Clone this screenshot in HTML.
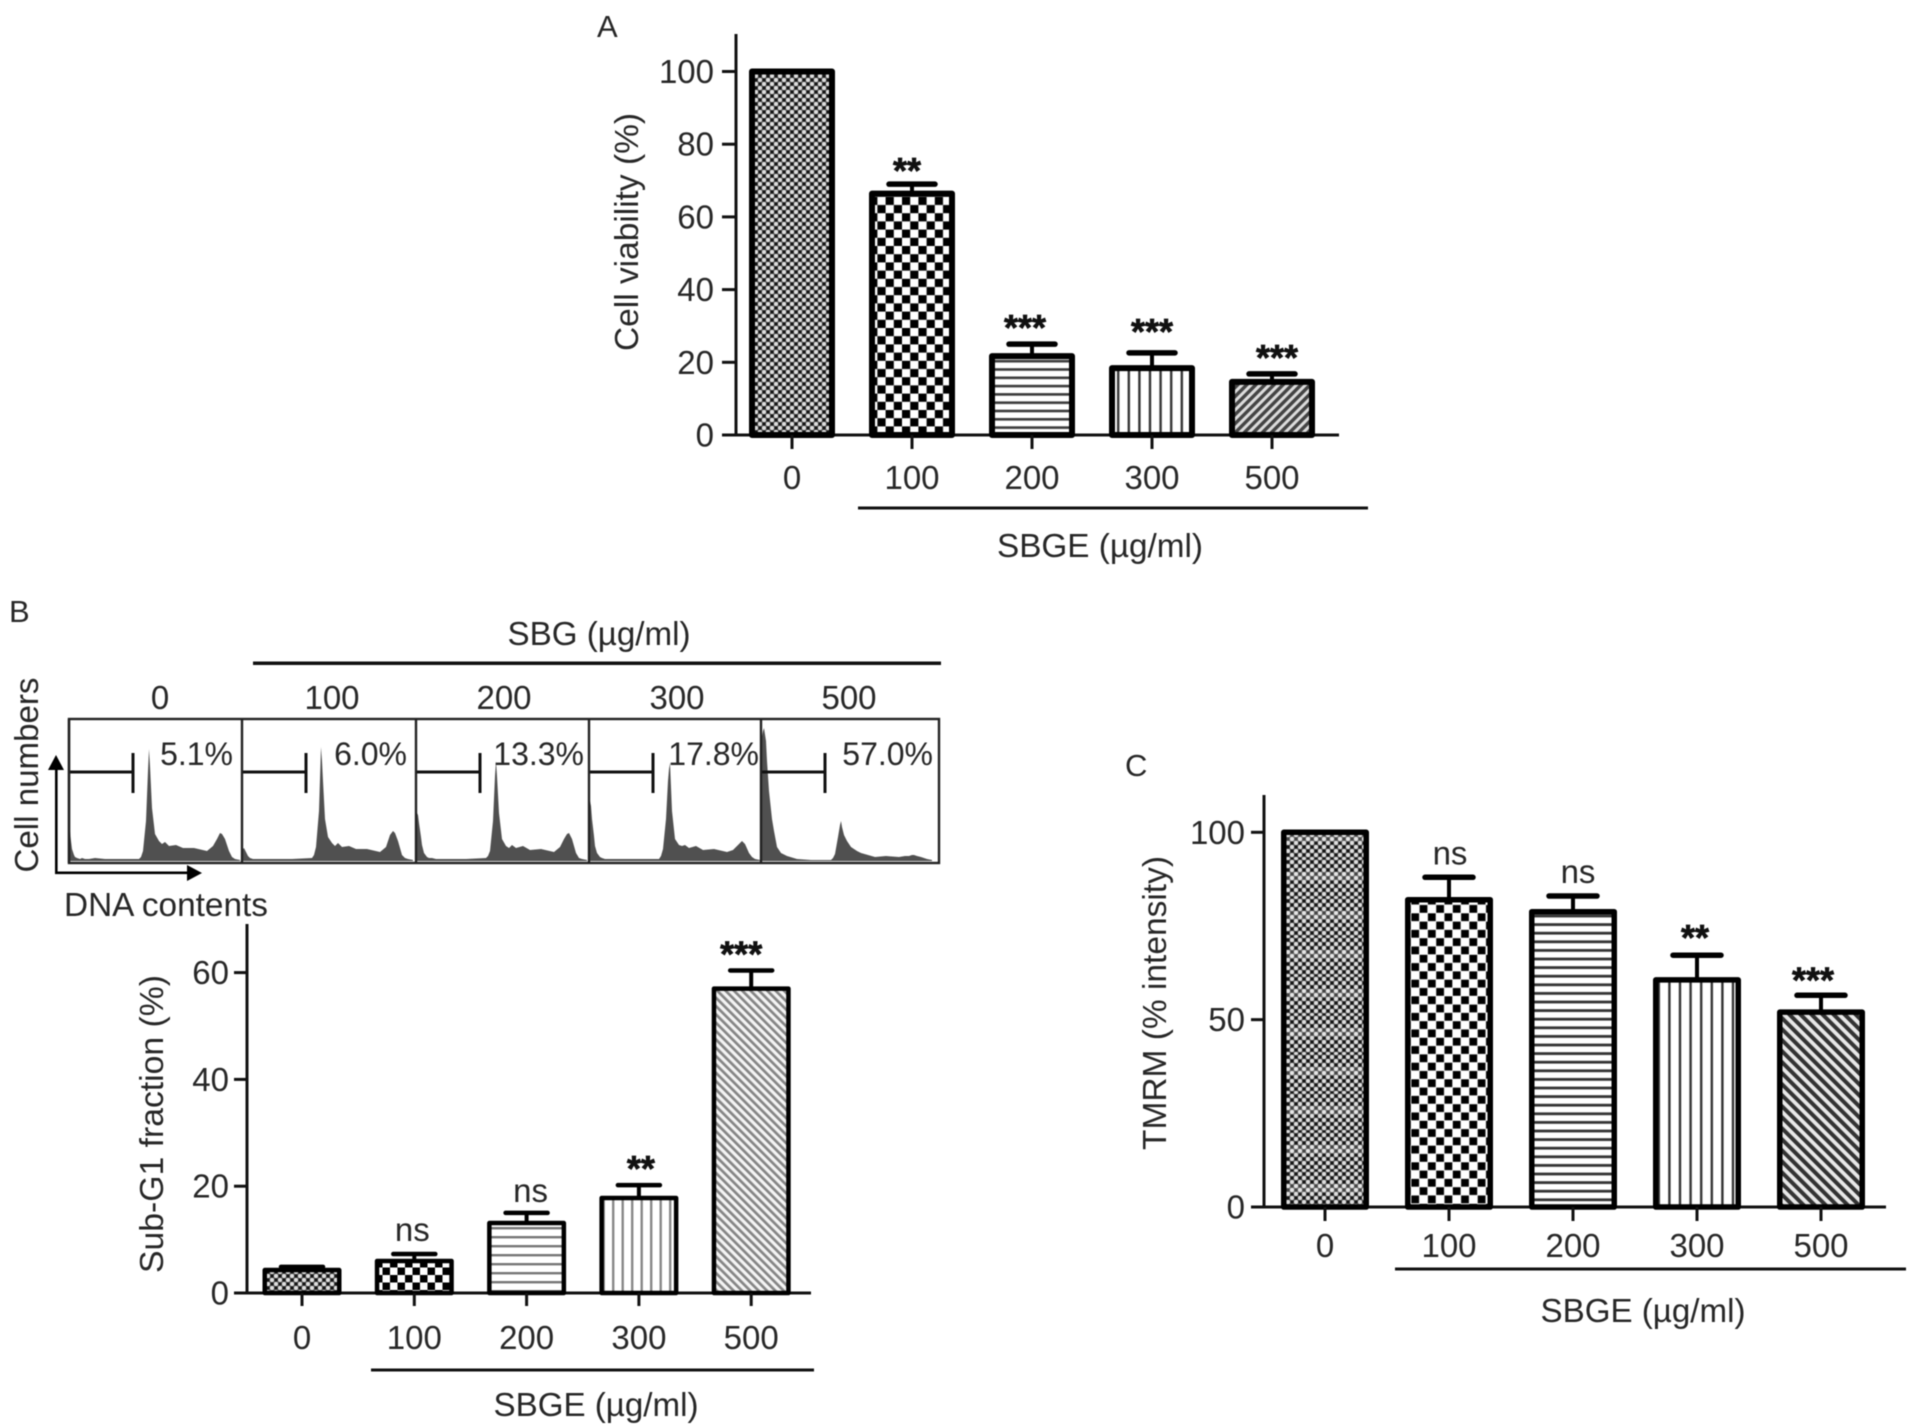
<!DOCTYPE html>
<html lang="en">
<head>
<meta charset="utf-8">
<title>SBGE viability, sub-G1 and TMRM charts</title>
<style>
html,body{margin:0;padding:0;background:#fff;}
body{width:1909px;height:1427px;overflow:hidden;}
svg{display:block;filter:blur(0.6px);}
text{font-family:"Liberation Sans",Arial,sans-serif;fill:#272727;}
</style>
</head>
<body>
<svg id="figure" xmlns="http://www.w3.org/2000/svg" width="1909" height="1427" viewBox="0 0 1909 1427">
<defs>
  <pattern id="dots" patternUnits="userSpaceOnUse" width="8" height="8">
    <rect width="8" height="8" fill="#5c5c5c"/>
    <circle cx="0" cy="0" r="2.1" fill="#dedede"/><circle cx="8" cy="0" r="2.1" fill="#dedede"/>
    <circle cx="0" cy="8" r="2.1" fill="#dedede"/><circle cx="8" cy="8" r="2.1" fill="#dedede"/>
    <circle cx="4" cy="4" r="2.1" fill="#dedede"/>
    <circle cx="4" cy="0" r="1.7" fill="#151515"/><circle cx="4" cy="8" r="1.7" fill="#151515"/>
    <circle cx="0" cy="4" r="1.7" fill="#151515"/><circle cx="8" cy="4" r="1.7" fill="#151515"/>
  </pattern>
  <pattern id="bands" patternUnits="userSpaceOnUse" width="8" height="39">
    <rect width="8" height="39" fill="url(#dots)"/>
    <rect y="14" width="8" height="9" fill="#fff" opacity="0.2"/>
  </pattern>
  <pattern id="checkA" patternUnits="userSpaceOnUse" width="16.4" height="16.4">
    <rect width="16.4" height="16.4" fill="#fff"/>
    <rect width="8.2" height="8.2" fill="#000"/><rect x="8.2" y="8.2" width="8.2" height="8.2" fill="#000"/>
  </pattern>
  <pattern id="checkB" patternUnits="userSpaceOnUse" width="15" height="15">
    <rect width="15" height="15" fill="#fff"/>
    <rect width="7.5" height="7.5" fill="#000"/><rect x="7.5" y="7.5" width="7.5" height="7.5" fill="#000"/>
  </pattern>
  <pattern id="checkC" patternUnits="userSpaceOnUse" width="16.6" height="16.6">
    <rect width="16.6" height="16.6" fill="#fff"/>
    <rect x="0.3" y="0.3" width="7.8" height="7.8" fill="#000"/><rect x="8.6" y="8.6" width="7.8" height="7.8" fill="#000"/>
  </pattern>
  <pattern id="hlinesA" patternUnits="userSpaceOnUse" width="10" height="8.3">
    <rect width="10" height="8.3" fill="#fff"/><rect y="3" width="10" height="2.6" fill="#3a3a3a"/>
  </pattern>
  <pattern id="hlinesB" patternUnits="userSpaceOnUse" width="10" height="9">
    <rect width="10" height="9" fill="#fff"/><rect y="3" width="10" height="2.4" fill="#777"/>
  </pattern>
  <pattern id="hlinesC" patternUnits="userSpaceOnUse" width="10" height="8.6">
    <rect width="10" height="8.6" fill="#fff"/><rect y="3" width="10" height="2.8" fill="#333"/>
  </pattern>
  <pattern id="vlinesA" patternUnits="userSpaceOnUse" width="10.6" height="10">
    <rect width="10.6" height="10" fill="#fff"/><rect x="4" width="2.4" height="10" fill="#333"/>
  </pattern>
  <pattern id="vlinesB" patternUnits="userSpaceOnUse" width="9.5" height="10">
    <rect width="9.5" height="10" fill="#fff"/><rect x="4" width="2.4" height="10" fill="#888"/>
  </pattern>
  <pattern id="vlinesC" patternUnits="userSpaceOnUse" width="10.6" height="10">
    <rect width="10.6" height="10" fill="#fff"/><rect x="4" width="2.4" height="10" fill="#333"/>
  </pattern>
  <pattern id="diagA" patternUnits="userSpaceOnUse" width="6.4" height="8" patternTransform="rotate(45)">
    <rect width="6.4" height="8" fill="#dcdcdc"/><rect width="3.4" height="8" fill="#444"/>
  </pattern>
  <pattern id="diagB" patternUnits="userSpaceOnUse" width="5.9" height="8" patternTransform="rotate(-45)">
    <rect width="5.9" height="8" fill="#f4f4f4"/><rect width="2.7" height="8" fill="#858585"/>
  </pattern>
  <pattern id="diagC" patternUnits="userSpaceOnUse" width="7.8" height="8" patternTransform="rotate(-45)">
    <rect width="7.8" height="8" fill="#e8e8e8"/><rect width="4" height="8" fill="#333"/>
  </pattern>
</defs>

<text x="597" y="37" font-size="31">A</text>
<text x="9" y="622" font-size="31">B</text>
<text x="1125" y="776" font-size="31">C</text>

<text transform="translate(638,232) rotate(-90)" text-anchor="middle" font-size="33" textLength="238" lengthAdjust="spacingAndGlyphs">Cell viability (%)</text>
<text x="1100" y="557" text-anchor="middle" font-size="33" textLength="206" lengthAdjust="spacingAndGlyphs">SBGE (µg/ml)</text>
<rect x="858" y="506.5" width="510" height="3" fill="#111"/>

<text x="599" y="645" text-anchor="middle" font-size="33" textLength="183" lengthAdjust="spacingAndGlyphs">SBG (µg/ml)</text>
<rect x="253" y="661.5" width="688" height="3.5" fill="#111"/>
<text transform="translate(38,775) rotate(-90)" text-anchor="middle" font-size="33" textLength="195" lengthAdjust="spacingAndGlyphs">Cell numbers</text>
<text x="64" y="916" font-size="33" textLength="204" lengthAdjust="spacingAndGlyphs">DNA contents</text>

<g fill="#000" stroke="none">
  <rect x="55" y="768" width="2.6" height="106"/>
  <rect x="55" y="871.5" width="134" height="2.6"/>
  <polygon points="56,755 48,770 64,770"/>
  <polygon points="202,873 187,865 187,881"/>
</g>

<text transform="translate(163,1124) rotate(-90)" text-anchor="middle" font-size="33" textLength="298" lengthAdjust="spacingAndGlyphs">Sub-G1 fraction (%)</text>
<text x="596" y="1416" text-anchor="middle" font-size="33" textLength="205" lengthAdjust="spacingAndGlyphs">SBGE (µg/ml)</text>
<rect x="371" y="1368.5" width="443" height="3" fill="#111"/>

<text transform="translate(1166,1003) rotate(-90)" text-anchor="middle" font-size="33" textLength="294" lengthAdjust="spacingAndGlyphs">TMRM (% intensity)</text>
<text x="1643" y="1322" text-anchor="middle" font-size="33" textLength="205" lengthAdjust="spacingAndGlyphs">SBGE (µg/ml)</text>
<rect x="1395" y="1267.5" width="511" height="3" fill="#111"/>
</svg>

<script>
var doseLabels = ['0', '100', '200', '300', '500'];

var viabilityTicks = [0, 20, 40, 60, 80, 100];
var viabilityValues = [100, 66.4, 21.7, 18.4, 14.6];
var viabilityErrors = [0, 2.6, 3.3, 4.2, 2.2];
var viabilityMarks = ['', '**', '***', '***', '***'];

var subG1Ticks = [0, 20, 40, 60];
var subG1Values = [4.3, 6.0, 13.1, 17.8, 57.0];
var subG1Errors = [0.6, 1.3, 1.9, 2.4, 3.4];
var subG1Marks = ['', 'ns', 'ns', '**', '***'];

var tmrmTicks = [0, 50, 100];
var tmrmValues = [100, 82, 78.8, 60.6, 52];
var tmrmErrors = [0, 6, 4.2, 6.6, 4.5];
var tmrmMarks = ['', 'ns', 'ns', '**', '***'];

var histDoses = ['0', '100', '200', '300', '500'];
var histPercents = ['5.1%', '6.0%', '13.3%', '17.8%', '57.0%'];
var histChannels = [0,1,2,3,5,6,8,11,13,16,20,26,36,50,70,72,74,77,79,80,81,83,86,90,93,96,100,107,114,125,138,144,148,151,153,156,160,163,166,171];
var histCounts0 = [32,30,20,12,6,4,3,2,3,2,2,3,2,2,2,4,10,40,90,112,95,53,27,20,17,19,15,16,13,13,10,15,22,28,27,22,10,4,2,1];
var histCounts100 = [6,12,13,11,7,5,3,2,2,2,2,2,2,2,3,6,14,50,114,100,80,42,24,18,15,18,14,15,12,12,9,14,26,30,28,20,6,3,2,1];
var histCounts200 = [40,48,46,38,24,16,8,4,3,3,2,2,2,2,3,5,10,40,85,100,85,48,22,15,13,16,13,15,11,12,9,14,22,27,28,22,8,3,2,1];
var histCounts300 = [55,60,55,42,25,15,8,4,3,2,2,2,2,2,2,5,12,42,80,92,98,50,22,16,15,16,13,15,11,12,9,11,15,18,20,17,8,4,2,1];
var histCounts500 = [100,125,130,133,120,100,70,42,30,14,8,5,2,1,1,3,7,24,36,40,34,26,20,14,12,10,8,6,4,5,4,5,5,6,6,5,4,3,2,1];

var svg = document.getElementById('figure');
var NS = 'http://www.w3.org/2000/svg';

function make(parent, tag, attrs, name, content) {
  var el = document.createElementNS(NS, tag);
  for (var k in attrs) { el.setAttribute(k, attrs[k]); }
  
  
  if (content !== undefined) { el.textContent = content; }
  parent.appendChild(el);
  return el;
}

function drawBarChart(o) {
  var g = make(svg, 'g', {}, o.name);
  function y(v) { return o.y0 - v * o.unit; }
  function x(i) { return o.x0 + i * o.step; }

  make(g, 'line', {x1: o.axisX, x2: o.axisX, y1: o.axisTop, y2: o.y0 + 1.5, stroke: '#111', 'stroke-width': 3}, o.name + '-y-axis');
  make(g, 'line', {x1: o.axisX - o.tickLen, x2: o.axisEnd, y1: o.y0, y2: o.y0, stroke: '#111', 'stroke-width': 3}, o.name + '-x-axis');

  o.ticks.forEach(function (t) {
    make(g, 'line', {x1: o.axisX - o.tickLen, x2: o.axisX, y1: y(t), y2: y(t), stroke: '#111', 'stroke-width': 3}, o.name + '-y-tick-' + t);
    make(g, 'text', {x: o.labelRight, y: y(t) + 11.5, 'text-anchor': 'end', 'font-size': 33}, o.name + '-y-label-' + t, String(t));
  });

  o.values.forEach(function (v, i) {
    var cx = x(i), sw = o.barStroke, top = y(v), dose = doseLabels[i];
    if (o.errors[i] > 0) {
      var capY = y(v + o.errors[i]);
      make(g, 'line', {x1: cx, x2: cx, y1: capY, y2: top, stroke: '#000', 'stroke-width': 4}, o.name + '-error-stem-' + dose);
      make(g, 'line', {x1: cx - o.capHalf, x2: cx + o.capHalf, y1: capY, y2: capY, stroke: '#000', 'stroke-width': o.capStroke, 'stroke-linecap': 'round'}, o.name + '-error-cap-' + dose);
    }
    make(g, 'rect', {x: cx - o.barWidth / 2 + sw / 2, y: top, width: o.barWidth - sw, height: o.y0 - top, fill: 'url(#' + o.fills[i] + ')', stroke: '#000', 'stroke-width': sw, 'stroke-linejoin': 'round'}, o.name + '-bar-' + dose);
    make(g, 'line', {x1: cx, x2: cx, y1: o.y0, y2: o.y0 + o.xTickLen, stroke: '#111', 'stroke-width': 3}, o.name + '-x-tick-' + dose);
    make(g, 'text', {x: cx, y: o.xLabelY, 'text-anchor': 'middle', 'font-size': 33}, o.name + '-x-label-' + dose, dose);

    var mark = o.marks[i];
    if (mark) {
      var base = y(v + o.errors[i]) - o.markLift[i];
      var mx = cx + o.markNudge[i];
      if (mark === 'ns') {
        make(g, 'text', {x: mx, y: base - 13, 'text-anchor': 'middle', 'font-size': 33}, o.name + '-ns-' + dose, mark);
      } else {
        make(g, 'text', {x: mx, y: base - o.starGap + 16, 'text-anchor': 'middle', 'font-size': 36, 'font-weight': 'bold', style: 'fill:#111;stroke:#111;stroke-width:0.7'}, o.name + '-significance-' + dose, mark);
      }
    }
  });
}

drawBarChart({
  name: 'viability-chart', values: viabilityValues, errors: viabilityErrors, marks: viabilityMarks, ticks: viabilityTicks,
  fills: ['dots', 'checkA', 'hlinesA', 'vlinesA', 'diagA'],
  markNudge: [0, -5, -7, 0, 5],
  markLift: [0, -3, 0, 5, 0],
  axisX: 736, axisTop: 34, axisEnd: 1339, y0: 435, unit: 3.635, x0: 792, step: 120, barWidth: 86,
  barStroke: 6, capHalf: 23, capStroke: 5.5, tickLen: 14, xTickLen: 14, labelRight: 714, xLabelY: 489, starGap: 20
});
drawBarChart({
  name: 'sub-g1-chart', values: subG1Values, errors: subG1Errors, marks: subG1Marks, ticks: subG1Ticks,
  fills: ['dots', 'checkB', 'hlinesB', 'vlinesB', 'diagB'],
  markNudge: [0, -2, 4, 2, -10],
  markLift: [0, 0, -2, 0, 0],
  axisX: 247, axisTop: 924, axisEnd: 811, y0: 1293, unit: 5.34, x0: 302, step: 112.3, barWidth: 79,
  barStroke: 4.5, capHalf: 21, capStroke: 4.5, tickLen: 13, xTickLen: 13, labelRight: 229, xLabelY: 1349, starGap: 20
});
drawBarChart({
  name: 'tmrm-chart', values: tmrmValues, errors: tmrmErrors, marks: tmrmMarks, ticks: tmrmTicks,
  fills: ['bands', 'checkC', 'hlinesC', 'vlinesC', 'diagC'],
  markNudge: [0, 1, 5, -2, -8],
  markLift: [0, 0, 0, 2, 0],
  axisX: 1264, axisTop: 795, axisEnd: 1886, y0: 1207, unit: 3.747, x0: 1325, step: 124, barWidth: 88,
  barStroke: 5.5, capHalf: 24, capStroke: 5.5, tickLen: 13, xTickLen: 14, labelRight: 1245, xLabelY: 1257, starGap: 19
});

function drawHistograms() {
  var g = make(svg, 'g', {}, 'cell-cycle-histograms');
  var lefts = [69, 242, 416, 589, 761];
  var right = 939, top = 719, bottom = 863, base = 861;
  var textRight = [164, 165, 168, 170, 172];
  var labelCentre = [91, 90, 88, 88, 88];
  var series = [histCounts0, histCounts100, histCounts200, histCounts300, histCounts500];

  series.forEach(function (counts, p) {
    var left = lefts[p];
    var pts = [(left) + ',' + base];
    counts.forEach(function (c, i) {
      pts.push((left + histChannels[i]).toFixed(1) + ',' + (base - c).toFixed(1));
    });
    pts.push((left + histChannels[histChannels.length - 1]) + ',' + base);
    make(g, 'polygon', {points: pts.join(' '), fill: '#505050'}, 'histogram-trace-' + histDoses[p]);
    make(g, 'path', {d: 'M' + left + ' 772H' + (left + 64) + 'M' + (left + 64) + ' 753V793', fill: 'none', stroke: '#111', 'stroke-width': 3}, 'sub-g1-gate-' + histDoses[p]);
    make(g, 'text', {x: left + textRight[p], y: 765, 'text-anchor': 'end', 'font-size': 32}, 'sub-g1-percent-' + histDoses[p], histPercents[p]);
    make(g, 'text', {x: left + labelCentre[p], y: 709, 'text-anchor': 'middle', 'font-size': 33}, 'histogram-dose-label-' + histDoses[p], histDoses[p]);
    make(g, 'line', {x1: left, x2: left, y1: top, y2: bottom, stroke: '#222', 'stroke-width': 2.4}, 'histogram-divider-' + histDoses[p]);
  });
  make(g, 'rect', {x: lefts[0], y: top, width: right - lefts[0], height: bottom - top, fill: 'none', stroke: '#222', 'stroke-width': 2.4}, 'histogram-frame');
}
drawHistograms();
</script>
</body>
</html>
